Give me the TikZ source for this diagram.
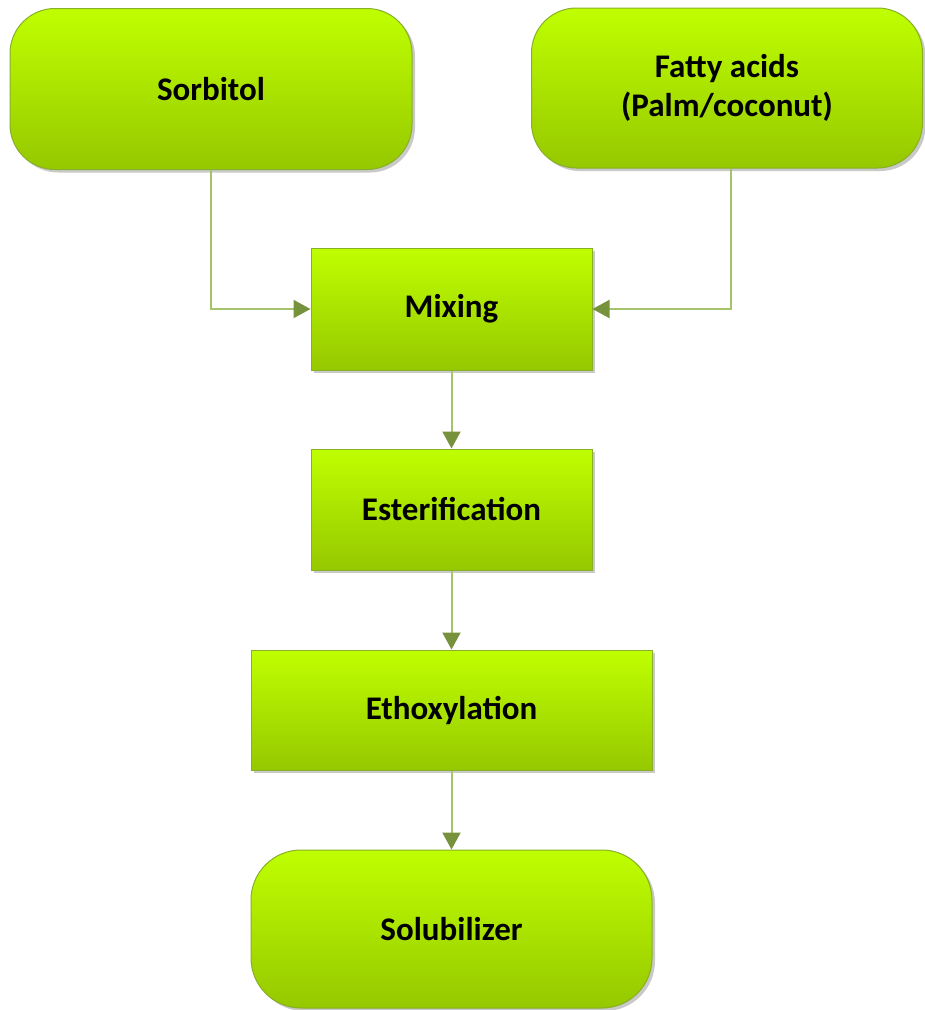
\documentclass[tikz,border=0pt]{standalone}
\usepackage{fontspec}
\setmainfont{Carlito}
\usetikzlibrary{arrows.meta,shadows}
\definecolor{limetop}{RGB}{191,255,0}
\definecolor{limebot}{RGB}{150,200,0}
\definecolor{limeedge}{RGB}{135,175,40}
\definecolor{linegreen}{RGB}{165,195,105}
\definecolor{tipgreen}{RGB}{118,146,60}

\begin{document}
\begin{tikzpicture}[x=1pt,y=-1pt,
		box/.style={draw=limeedge, line width=1pt, top color=limetop, bottom color=limebot,
			font=\fontsize{33}{39}\selectfont\bfseries, align=center, inner sep=0pt,
			drop shadow={shadow xshift=3pt, shadow yshift=-3pt, opacity=0.3, fill=black!70}},
		startbox/.style={box, rounded corners=45pt},
		flow/.style={draw=linegreen, line width=2pt, -{Triangle[length=17pt,width=18pt,color=tipgreen]}}]
		%%%%% START %%%%%
		
		\useasboundingbox (0,0) rectangle (925,1010);
		
		\node[startbox, minimum width=402pt, minimum height=161pt] (sorbitol) at (211,89) {Sorbitol};
		\node[startbox, minimum width=391pt, minimum height=160pt] (fatty) at (727,88) {Fatty acids\\(Palm/coconut)};
		
		\node[box, minimum width=281pt, minimum height=122pt] (mixing) at (451.5,309) {Mixing};
		\node[box, minimum width=281pt, minimum height=121pt] (ester) at (451.5,509.5) {Esterification};
		\node[box, minimum width=401pt, minimum height=120pt] (ethoxy) at (451.5,710) {Ethoxylation};
		\node[startbox, rounded corners=50pt, minimum width=401pt, minimum height=158pt] (solub) at (451.5,929) {Solubilizer};
		
		\draw[flow] (sorbitol.south) |- (mixing.west);
		\draw[flow] ([xshift=4pt]fatty.south) |- (mixing.east);
		\draw[flow] (mixing) -- (ester);
		\draw[flow] (ester) -- (ethoxy);
		\draw[flow] (ethoxy) -- (solub);
		
		%%%%% END %%%%%
	\end{tikzpicture}
\end{document}
